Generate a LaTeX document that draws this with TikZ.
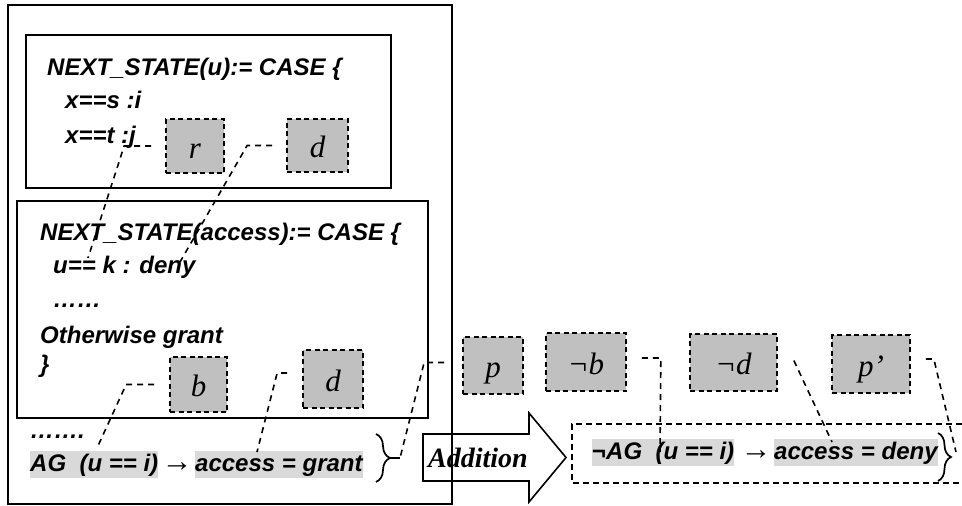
\documentclass[tikz,border=0pt]{standalone}
\usepackage{fontspec}
\setmainfont{Liberation Serif}
\setsansfont{Liberation Sans}
\usetikzlibrary{positioning, decorations.pathreplacing}
\definecolor{boxgray}{RGB}{192,192,192}
\definecolor{hlgray}{RGB}{217,217,217}
\newcommand{\codefont}{\sffamily\bfseries\itshape\fontsize{24}{28}\selectfont}
\newcommand{\varfont}{\rmfamily\itshape\fontsize{31}{34}\selectfont}
\newcommand{\arrfont}{\rmfamily\fontsize{31}{34}\selectfont}
\newcommand{\addfont}{\rmfamily\bfseries\itshape\fontsize{28}{30}\selectfont}

\begin{document}
\begin{tikzpicture}[x=1pt, y=-1pt,
    frame/.style={draw, line width=1.9pt},
    codeline/.style={anchor=base west, inner sep=0pt, font=\codefont},
    varbox/.style={draw, dash pattern=on 5pt off 3.5pt, line width=1.7pt, fill=boxgray,
                   inner sep=0pt, text height=24pt, text depth=0pt, font=\varfont},
    hilite/.style={anchor=base west, fill=hlgray, inner xsep=0pt, inner ysep=0.5pt,
                   text height=20pt, text depth=6pt, font=\codefont},
    arrow/.style={anchor=base, inner sep=0pt, font=\arrfont},
    link/.style={dash pattern=on 6pt off 5pt, line width=1.6pt},
    curly/.style={decorate, decoration={brace, amplitude=14pt}, line width=1.7pt}]
    \useasboundingbox (0,0) rectangle (962,506);

    % Frames
    \draw[frame] (8,5) rectangle (452,504);
    \draw[frame] (26,35) rectangle (391,188);
    \draw[frame] (17,201) rectangle (428,418);

    % NEXT_STATE(u)
    \node[codeline] (nsu) at (47,75) {NEXT\_STATE(u):= CASE \{};
    \node[codeline] (xs) at (65,108) {x==s :i};
    \node[codeline] (xt) at (65,143) {x==t :j};

    % NEXT_STATE(access)
    \node[codeline] (nsa) at (40,240) {NEXT\_STATE(access):= CASE \{};
    \node[codeline] (uk) at (53,273) {u== k : deny};
    \node[codeline] (dotsa) at (53,307) {……};
    \node[codeline] (other) at (40,343) {Otherwise grant};
    \node[codeline] (close) at (40,372) {\}};
    \node[codeline] (dotsb) at (30,438) {…….};

    % Property
    \node[hilite] (ag) at (30,471) {AG\ \ (u == i)};
    \node[arrow] (arrl) at (177,471) {→};
    \node[hilite] (grant) at (195,471) {access = grant};

    % Variables
    \node[varbox, minimum width=58pt, minimum height=54pt] (r) at (195,146) {r};
    \node[varbox, minimum width=61pt, minimum height=53pt] (du) at (317.5,145.5) {d};
    \node[varbox, minimum width=57pt, minimum height=55pt] (b) at (198.5,384.5) {b};
    \node[varbox, minimum width=60pt, minimum height=58pt] (da) at (333,379) {d};
    \node[varbox, minimum width=60pt, minimum height=57pt] (p) at (493,365.5) {p};
    \node[varbox, minimum width=80pt, minimum height=58pt] (nb) at (586,362) {¬b};
    \node[varbox, minimum width=87pt, minimum height=57pt] (nd) at (733.5,362.5) {¬d};
    \node[varbox, minimum width=78pt, minimum height=58pt] (pp) at (871,364) {p’};

    % Addition
    \draw[frame, line width=1.6pt] (423,434) -- (529,434) -- (529,413) -- (566,457.5) -- (529,502)
        -- (529,481) -- (423,481) -- cycle;
    \node[font=\addfont, inner sep=0pt] (addition) at (478,458) {Addition};

    % Negated property
    \draw[dash pattern=on 6pt off 4pt, line width=1.6pt] (962,424) -- (572,424) -- (572,483) -- (962,483);
    \node[hilite] (nag) at (592,459) {¬AG\ \ (u == i)};
    \node[arrow] (arrr) at (756,459) {→};
    \node[hilite] (deny) at (774,459) {access = deny};

    % Braces
    \draw[curly] (376,434) -- (376,482);
    \draw[line width=1.7pt] (390,458) -- (400,458);
    \draw[curly, decoration={amplitude=13pt}] (938,433) -- (938,481);

    % Link ends
    \coordinate (cu) at (88,258);
    \coordinate (cdeny) at (180,262);
    \coordinate (cag) at (97,448);
    \coordinate (cgrant) at (257,452);
    \coordinate (tipl) at (400,458);
    \coordinate (cneg) at (660,452);
    \coordinate (cacc) at (832,442);
    \coordinate (tipr) at (956,452);

    % Links
    \draw[link, shorten <=14pt] (r.west) -- ++(-41,0) -- (cu);
    \draw[link, shorten <=14pt] (du.west) -- ++(-39,0) -- (cdeny);
    \draw[link, shorten <=15pt] (b.west) -- ++(-43,0) -- (cag);
    \draw[link, shorten <=15pt] ([yshift=6pt]da.west) -- ++(-25,0) -- (cgrant);
    \draw[link, shorten <=18pt] ([yshift=3pt]p.west) -- ++(-38,0) -- (tipl);
    \draw[link, shorten <=15pt] ([yshift=4pt]nb.east) -- ++(34,0) -- (cneg);
    \draw[link] ([xshift=16pt, yshift=2pt]nd.east) -- (cacc);
    \draw[link, shorten <=15pt] ([yshift=5pt]pp.east) -- ++(23,0) -- (tipr);
\end{tikzpicture}
\end{document}
